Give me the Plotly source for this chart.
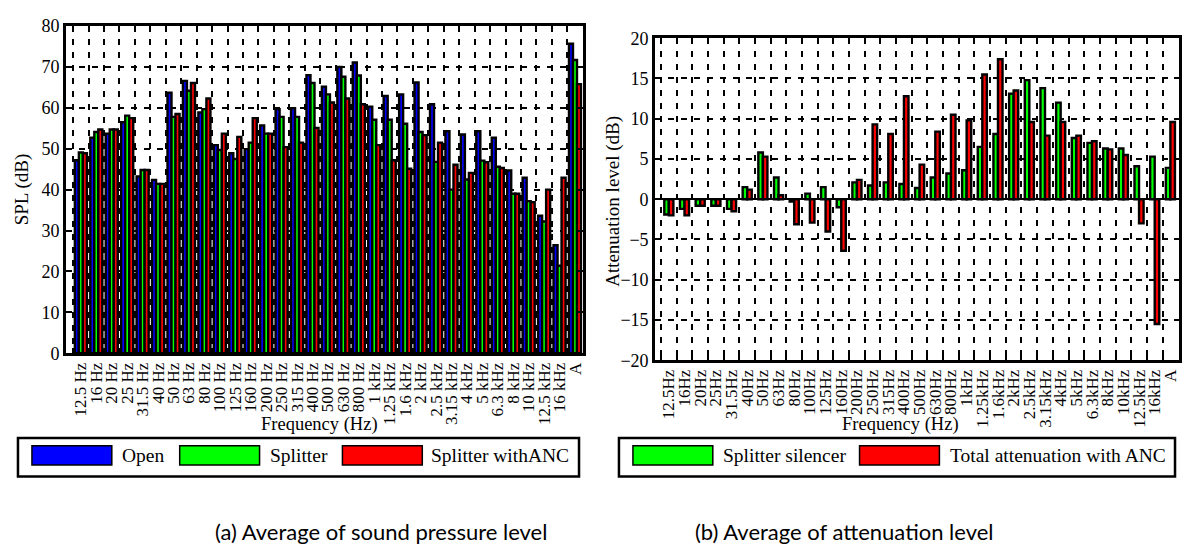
import plotly.graph_objects as go

# ---------------- data ----------------
categories_a = ["12.5 Hz", "16 Hz", "20 Hz", "25 Hz", "31.5 Hz", "40 Hz", "50 Hz", "63 Hz", "80 Hz",
                "100 Hz", "125 Hz", "160 Hz", "200 Hz", "250 Hz", "315 Hz", "400 Hz", "500 Hz", "630 Hz",
                "800 Hz", "1 kHz", "1.25 kHz", "1.6 kHz", "2 kHz", "2.5 kHz", "3.15 kHz", "4 kHz", "5 kHz",
                "6.3 kHz", "8 kHz", "10 kHz", "12.5 kHz", "16 kHz", "A"]
open_spl = [47.2, 52.7, 53.7, 56.5, 43.2, 42.4, 63.7, 66.6, 58.9, 50.9, 48.9, 49.9, 55.7, 59.7, 59.9, 68.0,
            65.2, 70.0, 71.1, 60.3, 62.9, 63.3, 66.2, 60.9, 54.3, 53.5, 54.3, 52.7, 44.7, 42.9, 33.6, 26.4, 75.7]
splitter_spl = [49.1, 54.1, 54.7, 58.1, 44.8, 41.4, 57.8, 64.2, 59.7, 49.7, 47.5, 51.5, 53.7, 57.8, 57.8, 66.1,
                63.3, 67.6, 67.9, 57.1, 57.1, 56.1, 54.1, 46.8, 40.0, 42.5, 47.1, 45.6, 39.0, 37.2, 32.2, 21.4, 71.7]
anc_spl = [48.9, 54.7, 54.7, 57.5, 44.8, 41.4, 58.5, 66.1, 62.3, 53.7, 52.9, 57.5, 53.7, 50.4, 51.5, 55.1,
           61.3, 62.3, 60.9, 50.9, 47.2, 45.1, 53.3, 51.5, 46.1, 44.1, 46.7, 45.3, 39.0, 36.9, 40.0, 42.9, 65.8]

categories_b = ["12.5Hz", "16Hz", "20Hz", "25Hz", "31.5Hz", "40Hz", "50Hz", "63Hz", "80Hz", "100Hz", "125Hz",
                "160Hz", "200Hz", "250Hz", "315Hz", "400Hz", "500Hz", "630Hz", "800Hz", "1kHz", "1.25kHz",
                "1.6kHz", "2kHz", "2.5kHz", "3.15kHz", "4kHz", "5kHz", "6.3kHz", "8kHz", "10kHz", "12.5kHz",
                "16kHz", "A"]
splitter_att = [-1.9, -1.2, -0.8, -0.8, -1.2, 1.5, 5.8, 2.7, -0.3, 0.7, 1.5, -1.0, 2.1, 1.7, 2.1, 1.9, 1.4,
                2.7, 3.2, 3.6, 6.5, 8.1, 13.1, 14.8, 13.8, 12.0, 7.6, 7.0, 6.3, 6.3, 4.1, 5.3, 3.9]
anc_att = [-2.0, -2.0, -0.8, -0.8, -1.5, 1.2, 5.3, 0.5, -3.1, -2.9, -4.0, -6.4, 2.4, 9.3, 8.1, 12.8, 4.3,
           8.4, 10.5, 9.8, 15.5, 17.4, 13.5, 9.6, 7.9, 9.6, 7.9, 7.2, 6.2, 5.5, -3.0, -15.5, 9.6]

legend_a = ["Open", "Splitter", "Splitter withANC"]
legend_b = ["Splitter silencer", "Total attenuation with ANC"]

# ---------------- style ----------------
W, H = 1187, 556
SERIF = "Liberation Serif, Times New Roman, serif"
SANS = "Lato, Open Sans, sans-serif"
BLUE, GREEN, RED = "#0000ff", "#00ff00", "#ff0000"
OUT = dict(color="black", width=2.4)


def px(x):
    return x / W


def py(y):
    return 1 - y / H


fig = go.Figure()

# left panel bars
for vals, col, off in [(open_spl, BLUE, -0.39), (splitter_spl, GREEN, -0.13), (anc_spl, RED, 0.13)]:
    fig.add_trace(go.Bar(x=categories_a, y=vals, offset=off, width=0.26,
                         marker=dict(color=col, line=OUT), xaxis="x", yaxis="y", showlegend=False))
# right panel bars
for vals, col, off in [(splitter_att, GREEN, -0.29), (anc_att, RED, 0.0)]:
    fig.add_trace(go.Bar(x=categories_b, y=vals, offset=off, width=0.29,
                         marker=dict(color=col, line=OUT), xaxis="x2", yaxis="y2", showlegend=False))

common_x = dict(type="category", tickson="boundaries", ticks="inside", ticklen=5, tickwidth=1.5,
                tickcolor="black", showgrid=True, gridcolor="black", griddash="6px,7px", gridwidth=1.5,
                showline=True, linewidth=2.5, linecolor="black", mirror="ticks", tickangle=-90,
                tickfont=dict(family=SERIF, size=17, color="black"), zeroline=False, tickmode="array")
common_y = dict(ticks="inside", ticklen=5, tickwidth=1.5, tickcolor="black", showgrid=True,
                gridcolor="black", griddash="6px,7px", gridwidth=1.5, showline=True, linewidth=2.5,
                linecolor="black", mirror="ticks", tickfont=dict(family=SERIF, size=18, color="black"))

fig.update_layout(
    width=W, height=H, autosize=False, margin=dict(l=0, r=0, t=0, b=0),
    paper_bgcolor="white", plot_bgcolor="white", showlegend=False, barmode="overlay",
    xaxis=dict(common_x, domain=[px(66), px(583.7)], range=[-0.97, 32.5], anchor="y",
               tickvals=categories_a, ticktext=categories_a),
    yaxis=dict(common_y, domain=[py(356), py(16.7)], range=[0, 80], dtick=10, anchor="x", zeroline=False),
    xaxis2=dict(common_x, domain=[px(656), px(1181)], range=[-0.89, 32.55], anchor="y2",
                tickvals=categories_b, ticktext=categories_b),
    yaxis2=dict(common_y, domain=[py(363.3), py(29.3)], range=[-20, 20], dtick=5, anchor="x2",
                zeroline=True, zerolinecolor="black", zerolinewidth=2),
)

shapes = []
annots = []


def legend_box(x0, x1, items):
    y0, y1 = 444, 484
    shapes.append(dict(type="rect", xref="paper", yref="paper", x0=px(x0), x1=px(x1), y0=py(y1), y1=py(y0),
                       line=dict(color="black", width=2.5), fillcolor="white", layer="above"))
    for sx, sw, tx, col, label in items:
        shapes.append(dict(type="rect", xref="paper", yref="paper", x0=px(sx), x1=px(sx + sw),
                           y0=py(472), y1=py(452), line=dict(color="black", width=1.5), fillcolor=col))
        annots.append(dict(x=px(tx), y=py(462), xref="paper", yref="paper", text=label, showarrow=False,
                           xanchor="left", yanchor="middle", xshift=-2,
                           font=dict(family=SERIF, size=19.5, color="black")))


legend_box(18, 580, [(32, 80, 122, BLUE, legend_a[0]), (180, 80, 270, GREEN, legend_a[1]),
                     (343, 80, 432, RED, legend_a[2])])
legend_box(620, 1177, [(634, 80, 724, GREEN, legend_b[0]), (861, 80, 952, RED, legend_b[1])])

# axis titles
annots.append(dict(x=px(320), y=py(430), xref="paper", yref="paper", text="Frequency (Hz)", showarrow=False,
                   xanchor="center", yanchor="middle", font=dict(family=SERIF, size=18.5, color="black")))
annots.append(dict(x=px(902), y=py(430), xref="paper", yref="paper", text="Frequency (Hz)", showarrow=False,
                   xanchor="center", yanchor="middle", font=dict(family=SERIF, size=18.5, color="black")))
annots.append(dict(x=px(22), y=py(186), xref="paper", yref="paper", text="SPL (dB)", showarrow=False,
                   textangle=-90, xanchor="center", yanchor="middle",
                   font=dict(family=SERIF, size=19, color="black")))
annots.append(dict(x=px(614), y=py(198), xref="paper", yref="paper", text="Attenuation level (dB)",
                   showarrow=False, textangle=-90, xanchor="center", yanchor="middle",
                   font=dict(family=SERIF, size=19, color="black")))
# captions
annots.append(dict(x=px(382), y=py(541), xref="paper", yref="paper", text="(a) Average of sound pressure level",
                   showarrow=False, xanchor="center", yanchor="middle",
                   font=dict(family=SANS, size=22, color="black")))
annots.append(dict(x=px(846), y=py(541), xref="paper", yref="paper", text="(b) Average of attenuation level",
                   showarrow=False, xanchor="center", yanchor="middle",
                   font=dict(family=SANS, size=22, color="black")))

fig.update_layout(shapes=shapes, annotations=annots)

page_fix = (
    "var gd=document.getElementById('{plot_id}');"
    "gd.style.position='fixed';gd.style.top='0px';gd.style.left='0px';"
    "document.body.style.margin='0';document.body.style.padding='0';"
    "document.body.style.height='556px';document.body.style.overflow='hidden';"
    "document.documentElement.style.overflow='hidden';"
)
fig.write_html("out.html", config={"displayModeBar": False}, post_script=page_fix)
